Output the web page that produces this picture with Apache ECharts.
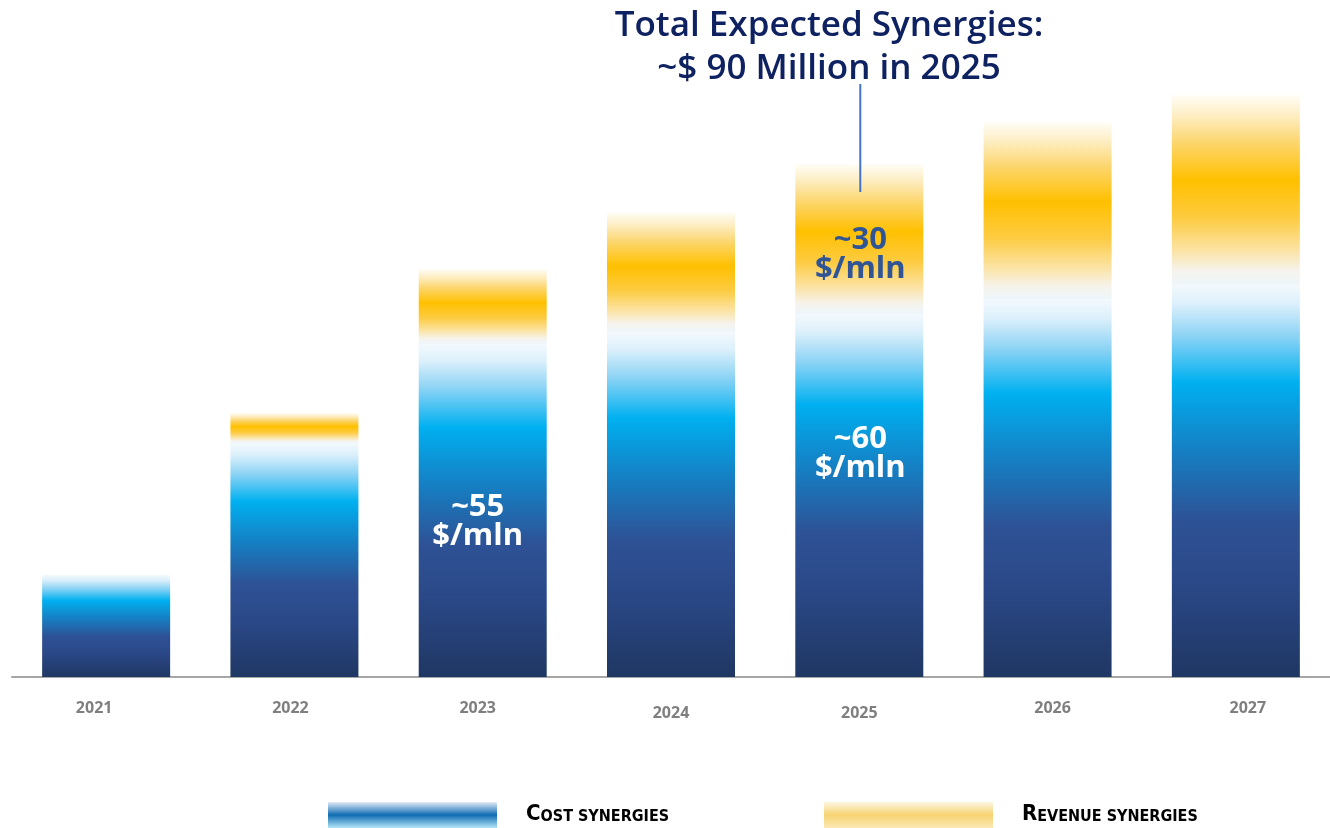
<!DOCTYPE html>
<html>
<head>
<meta charset="utf-8">
<script src="https://cdn.jsdelivr.net/npm/echarts@6/dist/echarts.min.js"></script>
<style>
  html, body { margin: 0; padding: 0; background: #fff; }
  #synergies { width: 1330px; height: 828px; }
</style>
</head>
<body>
<div id="synergies"></div>
<script>
// values in $ mln
var years = ['2021', '2022', '2023', '2024', '2025', '2026', '2027']
var costSynergies = [17, 39, 55.5, 57.5, 60.5, 63, 65.5]
var revenueSynergies = [0, 5, 12.5, 20, 25, 29.5, 31.5]

var cnFont = '"Open Sans", "Noto Sans", sans-serif'
var narrowFont = '"Liberation Sans Narrow", "DejaVu Sans Condensed", sans-serif'

// the year labels are not exactly under the bars in the original
var labelNudge = {
  '2021': [-12, 0], '2022': [-4, 0], '2023': [-5, 0], '2024': [0, 5],
  '2025': [0, 5], '2026': [5, 0], '2027': [12, 0]
}

// cost bar: white at the top, cyan, then down to navy
var costFill = new echarts.graphic.LinearGradient(0, 0, 0, 1, [
  { offset: 0, color: '#f4f9fd' },
  { offset: 0.05, color: '#dcf0fb' },
  { offset: 0.13, color: '#8fd4f5' },
  { offset: 0.25, color: '#00b0f0' },
  { offset: 0.42, color: '#1580c4' },
  { offset: 0.6, color: '#2e5296' },
  { offset: 0.78, color: '#2a4785' },
  { offset: 1, color: '#1f3763' }
])
// revenue bar: pale at both ends, gold in the middle
var revenueFill = new echarts.graphic.LinearGradient(0, 0, 0, 1, [
  { offset: 0, color: '#fffdf7' },
  { offset: 0.1, color: '#fdefc8' },
  { offset: 0.25, color: '#fcd66e' },
  { offset: 0.45, color: '#ffc000' },
  { offset: 0.65, color: '#fdcb40' },
  { offset: 0.82, color: '#fbe3a3' },
  { offset: 0.93, color: '#f6f3ec' },
  { offset: 1, color: '#eef6fb' }
])

var legendCost = new echarts.graphic.LinearGradient(0, 0, 0, 1, [
  { offset: 0, color: '#e3ebf7' },
  { offset: 0.5, color: '#0f6cb2' },
  { offset: 1, color: '#b5e6f8' }
])
var legendRevenue = new echarts.graphic.LinearGradient(0, 0, 0, 1, [
  { offset: 0, color: '#fdf5e2' },
  { offset: 0.5, color: '#f6d370' },
  { offset: 1, color: '#fbe8b5' }
])

var smallCaps = {
  b: { fontFamily: narrowFont, fontWeight: 'bold', fontSize: 22, color: '#000' },
  s: { fontFamily: narrowFont, fontWeight: 'bold', fontSize: 16, color: '#000', verticalAlign: 'bottom' }
}

function legendBox (left, name, fill, label) {
  return {
    left: left,
    top: 802,
    padding: 0,
    icon: 'rect',
    itemWidth: 169,
    itemHeight: 26,
    itemGap: 0,
    selectedMode: false,
    data: [{ name: name, itemStyle: { color: fill } }],
    formatter: function () { return label },
    textStyle: { padding: [0, 0, 2, 24], rich: smallCaps }
  }
}

// one rich style per year label, shifted with padding
var yearRich = {}
years.forEach(function (y) {
  var n = labelNudge[y]
  yearRich['y' + y] = {
    fontFamily: cnFont,
    fontWeight: 'bold',
    fontSize: 16,
    color: '#7f7f7f',
    padding: [n[1], Math.max(0, -2 * n[0]), 0, Math.max(0, 2 * n[0])]
  }
})

var option = {
  animation: false,
  backgroundColor: '#fff',
  title: {
    text: 'Total Expected Synergies:\n~$ 90 Million in 2025',
    left: 824,
    top: 0,
    textAlign: 'center',
    textStyle: {
      fontFamily: cnFont,
      fontWeight: 600,
      fontSize: 35,
      lineHeight: 43,
      color: '#0e2160'
    }
  },
  legend: [
    legendBox(328, 'Cost synergies', legendCost, '{b|C}{s|OST SYNERGIES}'),
    legendBox(824, 'Revenue synergies', legendRevenue, '{b|R}{s|EVENUE SYNERGIES}')
  ],
  grid: { left: 12, width: 1323, top: 77, height: 600 },
  xAxis: {
    type: 'category',
    data: years,
    axisTick: { show: false },
    axisLine: { lineStyle: { color: '#a6a6a6', width: 2 } },
    axisLabel: {
      margin: 23,
      formatter: function (v) { return '{y' + v + '|' + v + '}' },
      rich: yearRich
    }
  },
  yAxis: { type: 'value', min: 0, max: 100, show: false, splitLine: { show: false } },
  series: [
    {
      name: 'Cost synergies',
      type: 'bar',
      stack: 'total',
      barWidth: 128,
      itemStyle: { color: costFill },
      data: costSynergies.map(function (v, i) {
        var d = { value: v }
        if (years[i] === '2023') {
          d.label = { show: true, position: 'inside', offset: [-5, 11], formatter: '~55\n$/mln' }
        }
        if (years[i] === '2025') {
          d.label = { show: true, position: 'inside', offset: [1, -42], formatter: '~60\n$/mln' }
        }
        return d
      }),
      label: {
        show: false,
        color: '#fff',
        fontFamily: cnFont,
        fontWeight: 'bold',
        fontSize: 31,
        lineHeight: 29
      }
    },
    {
      name: 'Revenue synergies',
      type: 'bar',
      stack: 'total',
      barWidth: 128,
      itemStyle: { color: revenueFill },
      data: revenueSynergies.map(function (v, i) {
        var d = { value: v }
        if (years[i] === '2025') {
          d.label = { show: true, position: 'inside', offset: [1, 16], formatter: '~30\n$/mln' }
        }
        return d
      }),
      label: {
        show: false,
        color: '#2f5597',
        fontFamily: cnFont,
        fontWeight: 'bold',
        fontSize: 31,
        lineHeight: 29
      }
    }
  ]
}

var myChart = echarts.init(document.getElementById('synergies'), null, { renderer: 'canvas' })
myChart.setOption(option)

// leader line from the title down into the 2025 stack
var i25 = years.indexOf('2025')
var total25 = costSynergies[i25] + revenueSynergies[i25]
var p = myChart.convertToPixel({ gridIndex: 0 }, ['2025', total25])
myChart.setOption({
  graphic: [{
    type: 'line',
    shape: { x1: p[0] + 1, y1: 84, x2: p[0] + 1, y2: p[1] + 28 },
    style: { stroke: '#4472c4', lineWidth: 2 },
    z: 10
  }]
})
</script>
</body>
</html>
